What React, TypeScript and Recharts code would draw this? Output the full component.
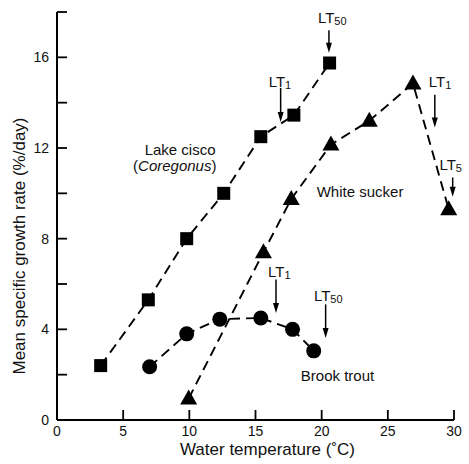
import React from 'react';
import { ComposedChart, Line, XAxis, YAxis, ReferenceLine, ReferenceDot, Label } from 'recharts';

const ciscoX = [3.3, 6.9, 9.8, 12.6, 15.4, 17.9, 20.6];
const ciscoY = [2.4, 5.3, 8.0, 10.0, 12.5, 13.45, 15.75];
const troutX = [7.0, 9.8, 12.3, 15.4, 17.8, 19.4];
const troutY = [2.35, 3.8, 4.45, 4.5, 4.0, 3.05];
const suckerX = [9.95, 15.6, 17.7, 20.7, 23.6, 26.9, 29.6];
const suckerY = [0.95, 7.4, 9.75, 12.15, 13.2, 14.85, 9.3];

const xTicks = [0, 5, 10, 15, 20, 25, 30];
const yTicks = [0, 2, 4, 6, 8, 10, 12, 14, 16, 18];

// annotations: label subscript, text position, arrow x, arrow top, arrow tip
const annSub = ['50', '1', '1', '5', '1', '50'];
const annTextX = [20.8, 16.85, 28.95, 29.75, 16.8, 20.5];
const annTextY = [17.75, 14.9, 14.9, 11.25, 6.55, 5.45];
const annArrowX = [20.55, 16.9, 28.55, 29.9, 16.55, 20.3];
const annArrowTop = [17.2, 14.65, 14.35, 10.7, 6.2, 5.1];
const annArrowTip = [16.2, 13.15, 12.9, 9.85, 4.72, 3.62];

const seriesLabels = ['Lake cisco', 'White sucker', 'Brook trout'];
const seriesLabelX = [9.3, 22.9, 21.2];
const seriesLabelY = [11.9, 10.07, 1.94];

const FONT = '"Liberation Sans", Arial, Helvetica, sans-serif';

const toData = (xs: number[], ys: number[]) => xs.map((x, i) => ({ x, y: ys[i] }));
const ciscoData = toData(ciscoX, ciscoY);
const troutData = toData(troutX, troutY);
const suckerData = toData(suckerX, suckerY);

const SquareDot = (p: any) => (
  <rect key={p.index} x={p.cx - 6.5} y={p.cy - 6.5} width={13} height={13} fill="#000" />
);
const CircleDot = (p: any) => <circle key={p.index} cx={p.cx} cy={p.cy} r={7.5} fill="#000" />;
const TriDot = (p: any) => (
  <polygon
    key={p.index}
    points={`${p.cx},${p.cy - 9} ${p.cx - 8.5},${p.cy + 6} ${p.cx + 8.5},${p.cy + 6}`}
    fill="#000"
  />
);

const XTick = (p: any) => {
  const { x, y, payload } = p;
  return (
    <g>
      {payload.value > 0 && <line x1={x} x2={x} y1={y} y2={y - 10} stroke="#000" strokeWidth={1.8} />}
      <text x={x} y={y + 16} textAnchor="middle" fontSize={14} fontFamily={FONT} fill="#111">
        {payload.value}
      </text>
    </g>
  );
};

const YTick = (p: any) => {
  const { x, y, payload } = p;
  const v = payload.value;
  return (
    <g>
      {v > 0 && <line x1={x} x2={x + 10} y1={y} y2={y} stroke="#000" strokeWidth={1.8} />}
      {v % 4 === 0 && v < 18 && (
        <text x={x - 8} y={y + 5} textAnchor="end" fontSize={14} fontFamily={FONT} fill="#111">
          {v}
        </text>
      )}
    </g>
  );
};

export default function App() {
  return (
    <div style={{ position: 'absolute', left: 0, top: 0, background: '#fff' }}>
      <ComposedChart width={469} height={464} margin={{ top: 12, right: 15, bottom: 0, left: 0 }}>
        <XAxis
          type="number"
          dataKey="x"
          domain={[0, 30]}
          ticks={xTicks}
          tickLine={false}
          tickSize={0}
          tickMargin={0}
          tick={<XTick />}
          height={44}
          stroke="#000"
          strokeWidth={2}
          allowDuplicatedCategory={false}
        >
          <Label
            content={({ viewBox }: any) => (
              <text
                x={viewBox.x + viewBox.width / 2 + 12}
                y={viewBox.y + 35}
                textAnchor="middle"
                fontSize={17}
                fontFamily={FONT}
                fill="#111"
              >
                Water temperature (˚C)
              </text>
            )}
          />
        </XAxis>
        <YAxis
          type="number"
          dataKey="y"
          domain={[0, 18]}
          ticks={yTicks}
          tickLine={false}
          tickSize={0}
          tickMargin={0}
          tick={<YTick />}
          width={57}
          stroke="#000"
          strokeWidth={2}
        >
          <Label
            content={({ viewBox }: any) => {
              const cx = viewBox.x + 21;
              const cy = viewBox.y + viewBox.height / 2 + 30;
              return (
                <text
                  x={cx}
                  y={cy}
                  transform={`rotate(-90 ${cx} ${cy})`}
                  textAnchor="middle"
                  dominantBaseline="middle"
                  fontSize={17}
                  fontFamily={FONT}
                  fill="#111"
                >
                  Mean specific growth rate (%/day)
                </text>
              );
            }}
          />
        </YAxis>

        <Line
          data={ciscoData}
          dataKey="y"
          type="linear"
          stroke="#000"
          strokeWidth={1.9}
          strokeDasharray="10 6"
          dot={<SquareDot />}
          activeDot={false}
          isAnimationActive={false}
        />
        <Line
          data={troutData}
          dataKey="y"
          type="linear"
          stroke="#000"
          strokeWidth={1.9}
          strokeDasharray="10 6"
          dot={<CircleDot />}
          activeDot={false}
          isAnimationActive={false}
        />
        <Line
          data={suckerData}
          dataKey="y"
          type="linear"
          stroke="#000"
          strokeWidth={1.9}
          strokeDasharray="10 6"
          dot={<TriDot />}
          activeDot={false}
          isAnimationActive={false}
        />

        {annSub.map((s, i) => (
          <ReferenceLine
            key={`al${i}`}
            segment={[
              { x: annArrowX[i], y: annArrowTop[i] },
              { x: annArrowX[i], y: annArrowTip[i] + 0.3 },
            ]}
            stroke="#000"
            strokeWidth={1.5}
            ifOverflow="visible"
          />
        ))}
        {annSub.map((s, i) => (
          <ReferenceDot
            key={`ah${i}`}
            x={annArrowX[i]}
            y={annArrowTip[i]}
            r={0}
            ifOverflow="visible"
            shape={(p: any) => (
              <polygon
                points={`${p.cx},${p.cy} ${p.cx - 3},${p.cy - 10} ${p.cx + 3},${p.cy - 10}`}
                fill="#000"
              />
            )}
          />
        ))}
        {annSub.map((s, i) => (
          <ReferenceDot
            key={`at${i}`}
            x={annTextX[i]}
            y={annTextY[i]}
            r={0}
            ifOverflow="visible"
            shape={(p: any) => (
              <text
                x={p.cx}
                y={p.cy + 5}
                textAnchor="middle"
                fontSize={15}
                fontFamily={FONT}
                fill="#111"
              >
                LT<tspan fontSize={11} dy={2}>{s}</tspan>
              </text>
            )}
          />
        ))}
        {seriesLabels.map((s, i) => (
          <ReferenceDot
            key={`sl${i}`}
            x={seriesLabelX[i]}
            y={seriesLabelY[i]}
            r={0}
            ifOverflow="visible"
            shape={(p: any) => (
              <text
                x={p.cx}
                y={p.cy + 5}
                textAnchor="middle"
                fontSize={15}
                fontFamily={FONT}
                fill="#111"
              >
                {s}
              </text>
            )}
          />
        ))}
        <ReferenceDot
          x={8.9}
          y={11.2}
          r={0}
          ifOverflow="visible"
          shape={(p: any) => (
            <text x={p.cx} y={p.cy + 5} textAnchor="middle" fontSize={15} fontFamily={FONT} fill="#111">
              (<tspan fontStyle="italic">Coregonus</tspan>)
            </text>
          )}
        />
      </ComposedChart>
    </div>
  );
}
